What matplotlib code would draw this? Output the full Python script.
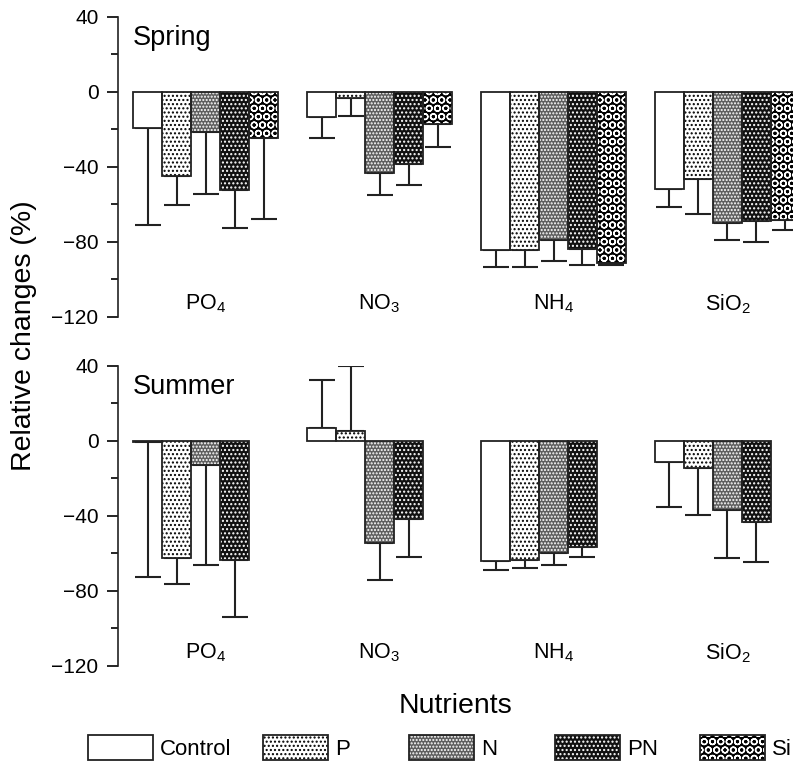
import numpy as np
import matplotlib.pyplot as plt
from matplotlib.patches import Patch
from matplotlib.ticker import MultipleLocator

plt.rcParams['font.family'] = ['Liberation Sans', 'DejaVu Sans']
plt.rcParams['mathtext.default'] = 'regular'
plt.rcParams['hatch.linewidth'] = 1.0

nutrients = ['PO$_4$', 'NO$_3$', 'NH$_4$', 'SiO$_2$']
treatments = ['Control', 'P', 'N', 'PN', 'Si']

# rows = treatment, cols = nutrient
spring_mean = [[-19.4, -13.2, -84.3, -51.9],
               [-44.6, -3.0, -84.3, -46.6],
               [-21.5, -43.0, -78.8, -69.7],
               [-52.3, -38.4, -83.6, -68.8],
               [-24.5, -16.9, -91.4, -68.3]]
spring_err = [[51.7, 11.2, 9.0, 9.3],
              [15.8, 10.0, 9.0, 18.5],
              [32.7, 12.1, 11.3, 9.1],
              [20.1, 11.2, 8.8, 11.4],
              [43.4, 12.3, 0.8, 5.1]]

summer_mean = [[-0.6, 6.9, -64.2, -11.4],
               [-62.4, 5.5, -63.5, -14.4],
               [-13.0, -54.2, -59.6, -36.6],
               [-63.5, -41.4, -56.5, -43.0]]
summer_err = [[71.8, 25.8, 4.6, 23.6],
              [13.7, 34.5, 4.4, 25.1],
              [53.3, 19.9, 6.7, 26.0],
              [30.4, 20.5, 5.2, 21.7]]

# face colour, hatch, hatch colour
styles = {
    'Control': ('white', None, 'white'),
    'P': ('white', '....', 'black'),
    'N': ('#5e5e5e', '.....', 'white'),
    'PN': ('#111111', '....', 'white'),
    'Si': ('black', 'OO', 'white'),
}


def draw_panel(ax, means, errs, title):
    for k in range(len(means)):
        name = treatments[k]
        x = np.arange(len(nutrients)) * 6 + k
        m = np.array(means[k])
        e = np.array(errs[k])
        lower = np.where(m < 0, e, 0)
        upper = np.where(m >= 0, e, 0)
        ax.errorbar(x, m, yerr=[lower, upper], fmt='none', ecolor='#222222',
                    elinewidth=1.5, capsize=9.5, capthick=1.5, zorder=1)
        face, hatch, hc = styles[name]
        ax.bar(x, m, width=1, color=face, hatch=hatch, edgecolor=hc,
               linewidth=0, zorder=2)
        ax.bar(x, m, width=1, fill=False, edgecolor='#222222',
               linewidth=1.3, zorder=3)

    for g, lab in enumerate(nutrients):
        ax.text(g * 6 + 2, -113, lab, ha='center', va='center', fontsize=15.5)
    ax.text(-0.5, 25, title, ha='left', va='baseline', fontsize=19.5)

    ax.set_ylim(-120, 40)
    ax.set_xlim(-1.02, 22.26)
    ax.set_yticks([-120, -80, -40, 0, 40])
    ax.yaxis.set_minor_locator(MultipleLocator(20))
    ax.tick_params(axis='y', which='major', length=8, width=1.2,
                   labelsize=15, pad=6)
    ax.tick_params(axis='y', which='minor', length=5, width=1.2)
    ax.set_xticks([])
    for s in ['top', 'right', 'bottom']:
        ax.spines[s].set_visible(False)
    ax.spines['left'].set_linewidth(1.2)
    ax.spines['left'].set_color('#222222')


fig = plt.figure(figsize=(7.93, 7.62), dpi=100)
ax1 = fig.add_axes([0.1488, 0.584, 0.8512, 0.3937])
ax2 = fig.add_axes([0.1488, 0.126, 0.8512, 0.3937])

draw_panel(ax1, spring_mean, spring_err, 'Spring')
draw_panel(ax2, summer_mean, summer_err, 'Summer')

fig.text(0.03, 0.56, 'Relative changes (%)', rotation=90, ha='center',
         va='center', fontsize=20.5)
fig.text(0.575, 0.0643, 'Nutrients', ha='center', va='baseline', fontsize=20.5)

# legend boxes placed one by one, like the original
legend_x = [88, 263, 409, 555, 700]
for name, lx in zip(treatments, legend_x):
    face, hatch, hc = styles[name]
    p1 = Patch(facecolor=face, hatch=hatch, edgecolor=hc, linewidth=0)
    p2 = Patch(fill=False, edgecolor='#222222', linewidth=1.3)
    fig.legend([(p1, p2)], [name], loc='center left',
               bbox_to_anchor=(lx / 793, 0.019), frameon=False, fontsize=16,
               handlelength=2.93, handleheight=1.4, handletextpad=0.32,
               borderpad=0, borderaxespad=0)

fig.savefig('out.png', dpi=100)
